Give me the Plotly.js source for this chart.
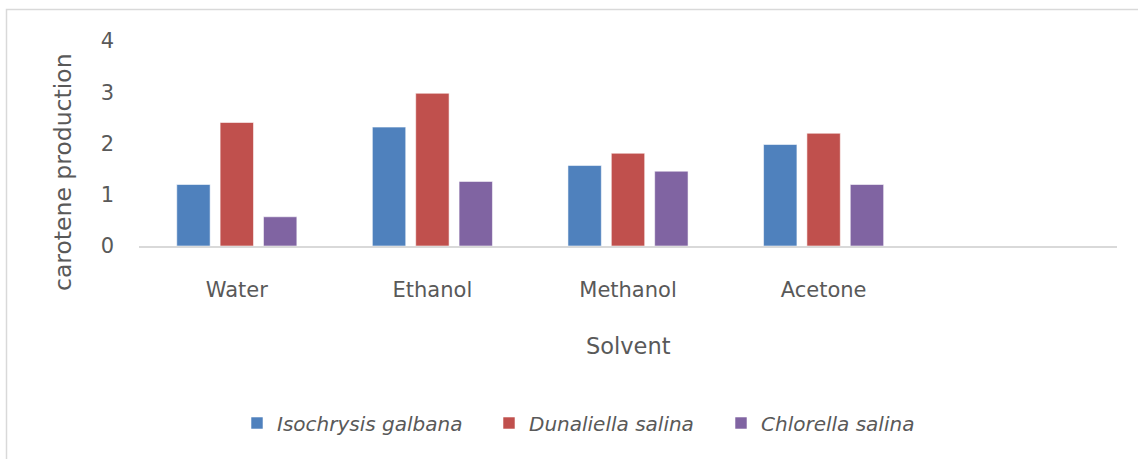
<!DOCTYPE html>
<html>
<head>
<meta charset="utf-8">
<script src="https://cdn.plot.ly/plotly-3.0.1.min.js"></script>
<style>
  html, body { margin: 0; padding: 0; background: #ffffff; }
  #chart { width: 1138px; height: 459px; }
</style>
</head>
<body>
<div id="chart"></div>
<script>
// Carotene production by extraction solvent for three microalgae
const solvents = ['Water', 'Ethanol', 'Methanol', 'Acetone'];
const isochrysisGalbana = [1.20, 2.32, 1.57, 1.98];
const dunaliellaSalina = [2.41, 2.98, 1.81, 2.20];
const chlorellaSalina = [0.57, 1.26, 1.46, 1.20];
const yTicks = [0, 1, 2, 3, 4];

const seriesNames = ['Isochrysis galbana', 'Dunaliella salina', 'Chlorella salina'];
const seriesColors = ['#4F81BD', '#C0504D', '#8064A2'];
const seriesValues = [isochrysisGalbana, dunaliellaSalina, chlorellaSalina];
const legendIds = ['legend', 'legend2', 'legend3'];

const textColor = '#595959';
const fontFamily = '"DejaVu Sans", "Open Sans", sans-serif';

// plot area geometry in pixels (used to place the outer frame and legend entries)
const plotLeft = 139, plotWidth = 978, plotBottom = 246, plotHeight = 205;
const px2x = p => (p - plotLeft) / plotWidth;
const px2y = p => (plotBottom - p) / plotHeight;

const traces = seriesValues.map((vals, i) => ({
  type: 'bar',
  name: seriesNames[i],
  legend: legendIds[i],
  x: solvents,
  y: vals,
  marker: { color: seriesColors[i], line: { color: 'rgba(255,255,255,0.55)', width: 1 } },
  hoverinfo: 'x+y+name'
}));

// one legend per series so each entry sits on its own spot in the row
const legendLefts = [237, 489, 721];
function legendBox(i) {
  return {
    orientation: 'h',
    x: px2x(legendLefts[i]),
    xanchor: 'left',
    y: px2y(423),
    yanchor: 'middle',
    font: { family: fontFamily, size: 20, color: textColor, style: 'italic' },
    bgcolor: 'rgba(0,0,0,0)'
  };
}

const layout = {
  width: 1138,
  height: 459,
  paper_bgcolor: '#ffffff',
  plot_bgcolor: '#ffffff',
  margin: { l: 139, r: 21, t: 41, b: 213 },
  barmode: 'group',
  bargap: 0.335,
  bargroupgap: 0.23,
  font: { family: fontFamily, color: textColor, size: 20 },
  xaxis: {
    type: 'category',
    range: [-0.5, 4.5],
    showline: true,
    linecolor: '#d9d9d9',
    linewidth: 1.5,
    showgrid: false,
    ticks: '',
    ticklabelstandoff: 24,
    tickfont: { family: fontFamily, size: 21, color: textColor },
    fixedrange: true
  },
  yaxis: {
    range: [0, 4],
    tickvals: yTicks,
    showline: false,
    showgrid: false,
    zeroline: false,
    ticks: '',
    ticklabelstandoff: 24,
    tickfont: { family: fontFamily, size: 21, color: textColor },
    fixedrange: true
  },
  showlegend: true,
  legend: legendBox(0),
  legend2: legendBox(1),
  legend3: legendBox(2),
  annotations: [
    {
      text: 'carotene production',
      xref: 'paper', yref: 'paper',
      x: px2x(63), y: px2y(172),
      xanchor: 'center', yanchor: 'middle',
      textangle: -90,
      showarrow: false,
      font: { family: fontFamily, size: 23.5, color: textColor }
    },
    {
      text: 'Solvent',
      xref: 'paper', yref: 'paper',
      x: px2x(628), y: px2y(346),
      xanchor: 'center', yanchor: 'middle',
      showarrow: false,
      font: { family: fontFamily, size: 22.5, color: textColor }
    }
  ],
  shapes: [
    {
      type: 'rect', xref: 'paper', yref: 'paper', layer: 'below',
      x0: px2x(6.5), x1: px2x(1145),
      y0: px2y(470), y1: px2y(9.5),
      line: { color: '#d9d9d9', width: 1.5 },
      fillcolor: 'rgba(0,0,0,0)'
    }
  ]
};

Plotly.newPlot('chart', traces, layout, { displayModeBar: false });
</script>
</body>
</html>
